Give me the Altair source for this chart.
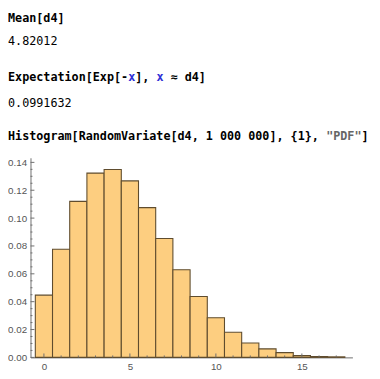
import altair as alt
import pandas as pd

# ---- data ----
centers = list(range(18))
density = [0.0447, 0.0776, 0.1120, 0.1323, 0.1349, 0.1267, 0.1075, 0.0853, 0.0629,
           0.0437, 0.0285, 0.0180, 0.0103, 0.0061, 0.0034, 0.0013, 0.0006, 0.0004]
y_major = [0.00, 0.02, 0.04, 0.06, 0.08, 0.10, 0.12, 0.14]
y_minor = [0.005, 0.010, 0.015, 0.025, 0.030, 0.035, 0.045, 0.050, 0.055,
           0.065, 0.070, 0.075, 0.085, 0.090, 0.095, 0.105, 0.110, 0.115,
           0.125, 0.130, 0.135]
x_major = [0, 5, 10, 15]
x_minor = [1, 2, 3, 4, 6, 7, 8, 9, 11, 12, 13, 14, 16, 17]

BLACK = "#000000"
BLUE = "#2f2fd6"
GRAY = "#666666"
segments = [
    (0, "Mean[d4]", BLACK, "bold"),
    (1, "4.82012", BLACK, "normal"),
    (2, "Expectation[Exp[-", BLACK, "bold"),
    (2, "x", BLUE, "bold"),
    (2, "], ", BLACK, "bold"),
    (2, "x", BLUE, "bold"),
    (2, " ", BLACK, "bold"),
    (2, "\u2248", BLACK, "bold"),
    (2, " d4]", BLACK, "bold"),
    (3, "0.0991632", BLACK, "normal"),
    (4, "Histogram[RandomVariate[d4, 1 000 000], {1}, ", BLACK, "bold"),
    (4, "\"PDF\"", GRAY, "bold"),
    (4, "]", BLACK, "bold"),
]

# ---- layout ----
W, H = 329, 204
PL, PT, PR, PB = 23, 149, 20, 18
FS = 12
CW = FS * 0.6021
baselines = [10, 34, 71, 97, 131]

FILL = "#fdce80"
EDGE = "#5f4c2e"
AX = "#6e6e6e"
LAB = "#555555"

xs = alt.Scale(domain=[-0.78, 17.94], nice=False, zero=False)
ys = alt.Scale(domain=[0, 0.1433], nice=False, zero=False)
xaxis = alt.Axis(values=x_major, ticks=False, grid=False, domainColor=AX,
                 labelColor=LAB, labelFont="Liberation Sans", labelFontSize=10,
                 labelPadding=4, format="d", title=None)
yaxis = alt.Axis(values=y_major, ticks=False, grid=False, domainColor=AX,
                 labelColor=LAB, labelFont="Liberation Sans", labelFontSize=10,
                 labelPadding=4, format=".2f", title=None)

bars_df = pd.DataFrame({
    "x0": [c - 0.5 for c in centers],
    "x1": [c + 0.5 for c in centers],
    "d": density,
    "z": [0.0] * len(centers),
})

bars = alt.Chart(bars_df).mark_rect(fill=FILL, stroke=EDGE, strokeWidth=1.1).encode(
    x=alt.X("x0:Q", scale=xs, axis=xaxis, title=None),
    x2="x1:Q",
    y=alt.Y("d:Q", scale=ys, axis=yaxis, title=None),
    y2="z:Q",
)

def yticks(vals, length):
    return alt.Chart(pd.DataFrame({"v": vals})).mark_rule(color=AX, strokeWidth=1).encode(
        y=alt.Y("v:Q", scale=ys, axis=yaxis, title=None),
        x=alt.value(0), x2=alt.value(length))

def xticks(vals, length):
    return alt.Chart(pd.DataFrame({"v": vals})).mark_rule(color=AX, strokeWidth=1).encode(
        x=alt.X("v:Q", scale=xs, axis=xaxis, title=None),
        y=alt.value(H), y2=alt.value(H - length))

layers = [bars, yticks(y_major, 4), yticks(y_minor, 2), xticks(x_major, 4), xticks(x_minor, 2)]

cols = {}
for line, txt, color, weight in segments:
    col = cols.get(line, 0)
    cols[line] = col + len(txt)
    shown = txt.strip()
    if not shown:
        continue
    col += len(txt) - len(txt.lstrip())   # SVG drops leading spaces
    single = len(shown) == 1
    layers.append(
        alt.Chart(pd.DataFrame({"t": [shown]})).mark_text(
            align="center" if single else "left", baseline="alphabetic",
            font="DejaVu Sans Mono", fontSize=FS, fontWeight=weight, color=color
        ).encode(
            x=alt.value(-PL + (col + (0.5 if single else 0)) * CW),
            y=alt.value(baselines[line] - PT),
            text="t:N",
        )
    )

chart = alt.layer(*layers).properties(
    width=W, height=H,
    background="white",
    autosize=alt.AutoSizeParams(type="none"),
    padding={"left": PL, "top": PT, "right": PR, "bottom": PB},
).configure_view(stroke=None)

chart.save("out.html", embed_options={"renderer": "svg", "actions": False})
